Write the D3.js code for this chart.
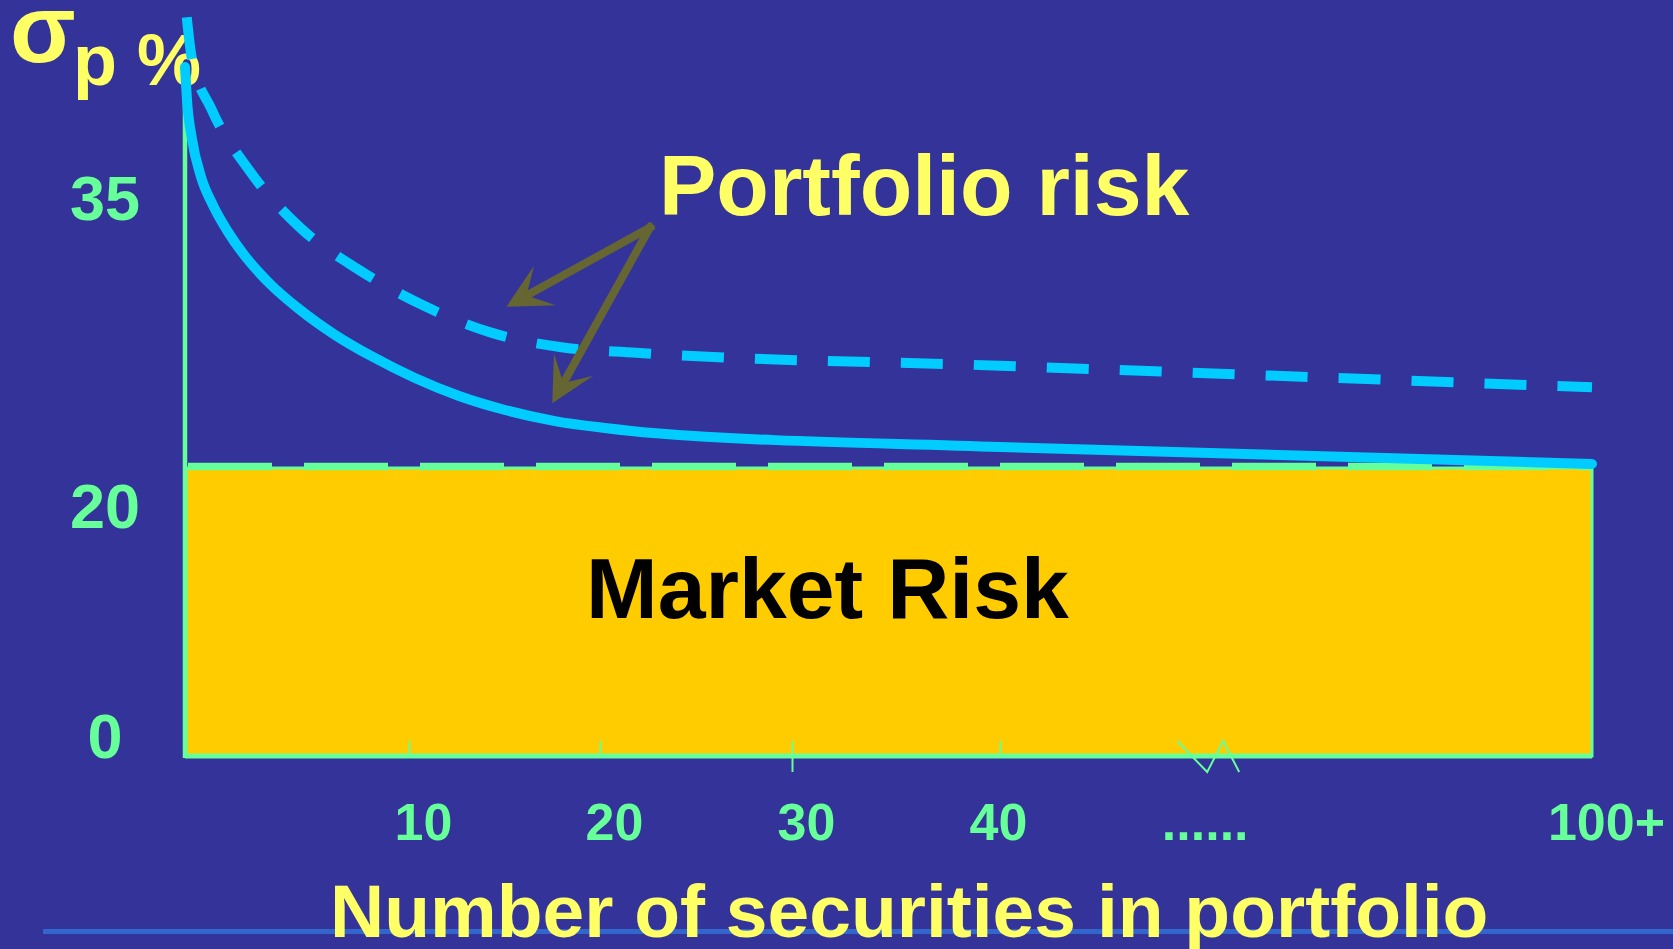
<!DOCTYPE html>
<html lang="en">
<head>
<meta charset="utf-8">
<title>Portfolio risk</title>
<style>
    body {
        margin: 0;
        background: #333399;
        font-family: "Liberation Sans", Arial, sans-serif;
        font-weight: bold;
    }
    svg { display: block; }
    .axis-line { stroke: #66ff99; fill: none; }
    .risk-line { fill: none; stroke: #00ccff; stroke-width: 10px; }
</style>
<script src="https://cdn.jsdelivr.net/npm/d3@7"></script>
</head>
<body>
<div id="chart"></div>
<script>
// number of securities / portfolio sigma (%)
var nTicks = [10, 20, 30, 40, 100];
var nTickLabels = ["10", "20", "30", "40", "100+"];
var breakAt = 61;
var breakLabel = "......";
var sigmaTicks = [0, 20, 35];
var marketRisk = 20;

// solid curve
var solidN     = [1, 1.08, 1.28, 1.64, 2.12, 2.73, 3.41, 4.42, 5.58, 7.03, 8.55,
                  10.31, 12.62, 15.03, 17.64, 20.26, 22.76, 40, 100];
var solidSigma = [47.85, 45.56, 42.85, 40.24, 38.26, 36.39, 34.72, 32.78, 31.04, 29.24, 27.71,
                  26.25, 25.0, 24.03, 23.26, 22.78, 22.43, 21.46, 20.28];

// dashed curve
var dashedN     = [1.07, 1.27, 2.07, 3.61, 5.62, 7.95, 10.73, 14.3, 17.9, 21.9, 40, 100];
var dashedSigma = [51.3, 48.5, 44.9, 40.6, 36.7, 33.8, 31.3, 29.4, 28.4, 28.0, 27.1, 25.6];

// "Portfolio risk" pointer arrows
var arrowFrom = [22.6, 36.7];
var arrowTipN     = [15.1, 17.5];
var arrowTipSigma = [31.2, 24.5];

var width = 1673, height = 949;

var svg = d3.select("#chart").append("svg")
    .attr("width", width)
    .attr("height", height);

// the slide's axis is not evenly spaced, so a piecewise scale
var x = d3.scaleLinear()
    .domain([1, 10, 20, 30, 40, 100])
    .range([185, 409, 600, 792, 1000, 1592]);

var y = d3.scaleLinear()
    .domain([0, 50])
    .range([756, 36]);

// tick labels on the slide sit off their values
var yLabel = d3.scaleLinear()
    .domain([0, 20, 35])
    .range([735, 505, 197]);

// background + bottom rule
svg.append("rect").attr("width", width).attr("height", height).attr("fill", "#333399");
svg.append("line")
    .attr("x1", 43).attr("x2", width)
    .attr("y1", 931.5).attr("y2", 931.5)
    .attr("stroke", "#3366cc").attr("stroke-width", 5);

// market risk block
svg.append("rect")
    .attr("x", x(1) + 1)
    .attr("y", y(marketRisk))
    .attr("width", x(100) - x(1) - 1)
    .attr("height", y(0) - y(marketRisk))
    .attr("fill", "#ffcc00")
    .attr("stroke", "#66ff99")
    .attr("stroke-width", 3);

svg.append("line")
    .attr("x1", x(1) + 3).attr("x2", x(100))
    .attr("y1", y(marketRisk) - 1.5).attr("y2", y(marketRisk) - 1.5)
    .attr("stroke", "#66ff99")
    .attr("stroke-width", 7.5)
    .attr("stroke-dasharray", "84,32");

svg.append("text")
    .attr("x", 586)
    .attr("y", 618)
    .style("font-size", "86px")
    .attr("fill", "#000")
    .text("Market Risk");

// x axis
var xAxis = svg.append("g")
    .attr("transform", "translate(0," + y(0) + ")")
    .call(d3.axisBottom(x)
        .tickValues(nTicks)
        .tickSizeInner(-15)
        .tickSizeOuter(0)
        .tickFormat(function(d, i) { return nTickLabels[i]; }));
xAxis.select(".domain").remove();
xAxis.selectAll(".tick line")
    .attr("stroke", "#66ff99")
    .attr("stroke-width", 2)
    .attr("y1", function(d) { return d === 30 ? 16 : 0; })
    .style("display", function(d) { return d === 100 ? "none" : null; });
xAxis.selectAll(".tick text")
    .attr("fill", "#66ff99")
    .attr("y", 84)
    .attr("dy", 0)
    .attr("dx", function(d) { return d === 40 ? -2 : 14; })
    .style("font-size", "52px")
    .style("font-family", "'Liberation Sans', Arial, sans-serif")
    .style("font-weight", "bold");

svg.append("line")
    .attr("class", "axis-line")
    .attr("x1", x(1)).attr("x2", x(100))
    .attr("y1", y(0)).attr("y2", y(0))
    .attr("stroke-width", 5);

svg.append("line")
    .attr("class", "axis-line")
    .attr("x1", x(1)).attr("x2", x(1))
    .attr("y1", y(solidSigma[0])).attr("y2", y(0) + 2)
    .attr("stroke-width", 4.5);

// axis break zigzag + dots
var bx = x(breakAt), by = y(0);
svg.append("polyline")
    .attr("points", [[bx - 30, by - 15], [bx, by + 16], [bx + 16, by - 15], [bx + 32, by + 16]].join(" "))
    .attr("fill", "none")
    .attr("stroke", "#66ff99")
    .attr("stroke-width", 2);

svg.append("text")
    .attr("x", bx - 2)
    .attr("y", 840)
    .attr("text-anchor", "middle")
    .attr("fill", "#66ff99")
    .style("font-size", "52px")
    .text(breakLabel);

// y labels
var yAxis = svg.append("g")
    .call(d3.axisLeft(yLabel).tickValues(sigmaTicks).tickSize(0));
yAxis.select(".domain").remove();
yAxis.selectAll(".tick text")
    .attr("x", 105)
    .attr("dy", "0.36em")
    .attr("text-anchor", "middle")
    .attr("fill", "#66ff99")
    .style("font-size", "63px")
    .style("font-family", "'Liberation Sans', Arial, sans-serif")
    .style("font-weight", "bold");

// sigma_p % label
svg.append("text")
    .attr("x", 10).attr("y", 62)
    .attr("fill", "#ffff66")
    .style("font-size", "96px")
    .text("σ");
svg.append("text")
    .attr("x", 73).attr("y", 85)
    .attr("fill", "#ffff66")
    .style("font-size", "72px")
    .text("p %");

// curves
var line = d3.line()
    .curve(d3.curveMonotoneX)
    .x(function(d) { return x(d[0]); })
    .y(function(d) { return y(d[1]); });

svg.append("path")
    .datum(d3.zip(solidN, solidSigma))
    .attr("class", "risk-line")
    .attr("stroke-linecap", "round")
    .attr("d", line);

svg.append("path")
    .datum(d3.zip(dashedN, dashedSigma))
    .attr("class", "risk-line")
    .attr("stroke-dasharray", "42,31")
    .attr("d", line);

// arrows
svg.append("defs").append("marker")
    .attr("id", "head")
    .attr("markerUnits", "userSpaceOnUse")
    .attr("viewBox", "0 -25 46 50")
    .attr("markerWidth", 46)
    .attr("markerHeight", 50)
    .attr("refX", 20)
    .attr("refY", 0)
    .attr("orient", "auto")
    .append("path")
    .attr("d", "M44,0 L0,-22.5 L21,0 L0,22.5 Z")
    .attr("fill", "#666633");

var fx = x(arrowFrom[0]), fy = y(arrowFrom[1]);
arrowTipN.forEach(function(n, i) {
    var tx = x(n), ty = y(arrowTipSigma[i]);
    var len = Math.hypot(tx - fx, ty - fy);
    var k = (len - 24) / len;
    svg.append("line")
        .attr("x1", fx).attr("y1", fy)
        .attr("x2", fx + (tx - fx) * k)
        .attr("y2", fy + (ty - fy) * k)
        .attr("stroke", "#666633")
        .attr("stroke-width", 8)
        .attr("stroke-linecap", "square")
        .attr("marker-end", "url(#head)");
});

// titles
svg.append("text")
    .attr("x", 659).attr("y", 215)
    .attr("fill", "#ffff66")
    .style("font-size", "86px")
    .text("Portfolio risk");

svg.append("text")
    .attr("x", 330).attr("y", 937)
    .attr("fill", "#ffff66")
    .style("font-size", "75px")
    .text("Number of securities in portfolio");
</script>
</body>
</html>
